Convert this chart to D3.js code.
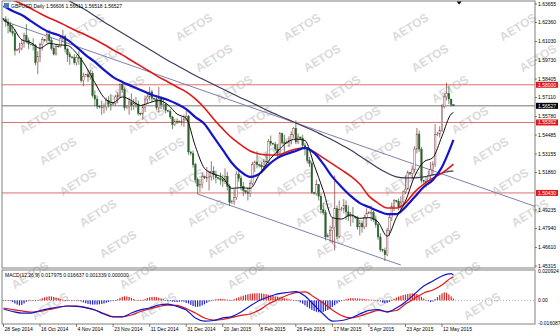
<!DOCTYPE html>
<html>
<head>
<meta charset="utf-8">
<script src="https://cdn.jsdelivr.net/npm/d3@7"></script>
<style>
  body { margin: 0; background: #fff; }
  svg { display: block; }
  text { font-family: "Liberation Sans", Arial, sans-serif; }
</style>
</head>
<body>
<svg id="chart" width="560" height="336"></svg>
<script>
// ---------------- data ----------------
const symbol = "GBPUSD,Daily"
const headerValues = "1.56606 1.56611 1.56518 1.56527"
const macdTitle = "MACD(12,26,9) 0.017975 0.016637 0.001339 0.000000"
const watermark = "AETOS"

// daily bars 28 Sep 2014 .. 18 May 2015 (broker has Sunday bars), open = previous close
const firstOpen = 1.6262
const closes = [
  1.6255,1.6240,1.6215,1.6175,1.6160,1.6040, 1.6045,1.6055,1.6090,1.6145,1.6110,1.6085,
  1.6080,1.6075,1.5955,1.6000,1.6080,1.6115, 1.6110,1.6150,1.6110,1.6055,1.6015,1.6070,
  1.6068,1.6125,1.6140,1.6050,1.6010,1.5995, 1.5990,1.5955,1.5990,1.5985,1.5830,1.5860,
  1.5870,1.5855,1.5880,1.5725,1.5700,1.5650, 1.5645,1.5640,1.5645,1.5690,1.5665,1.5660,
  1.5670,1.5715,1.5725,1.5800,1.5765,1.5640, 1.5645,1.5680,1.5655,1.5670,1.5665,1.5600,
  1.5595,1.5640,1.5700,1.5715,1.5750,1.5705, 1.5700,1.5640,1.5705,1.5660,1.5665,1.5620,
  1.5615,1.5575,1.5520,1.5545,1.5540, 1.5545,1.5545,1.5560,1.5580,1.5330,
  1.5320,1.5240,1.5135,1.5090,1.5100,1.5160, 1.5150,1.5150,1.5155,1.5195,1.5170,1.5150,
  1.5145,1.5135,1.5125,1.5160,1.5090,1.4975, 1.4985,1.5010,1.5175,1.5145,1.5090,1.5060,
  1.5050,1.5040,1.5110,1.5240,1.5260,1.5240, 1.5235,1.5225,1.5265,1.5260,1.5405,1.5390,
  1.5385,1.5350,1.5320,1.5460,1.5395,1.5390, 1.5400,1.5410,1.5450,1.5495,1.5400,1.5435,
  1.5425,1.5375,1.5350,1.5270,1.5250,1.5045, 1.5040,1.5100,1.5020,1.4925,1.4905,1.4735,
  1.4745,1.4780,1.4800,1.4935,1.4740,1.4925, 1.4930,1.4955,1.4910,1.4880,1.4885,1.4880,
  1.4870,1.4805,1.4830,1.4805,1.4870,1.4900, 1.4905,1.4905,1.4855,1.4820,1.4735,1.4645,
  1.4640,1.4610,1.4780,1.4870,1.4950,1.4990, 1.4985,1.4945,1.4980,1.5050,1.5070,1.5185,
  1.5180,1.5210,1.5350,1.5455,1.5350,1.5130, 1.5125,1.5120,1.5165,1.5205,1.5245,1.5450,
  1.5455,1.5480,1.5650,1.5715,1.5740,1.5700, 1.5661,1.56527
]
const highs = [
  1.6268,1.6280,1.6265,1.6240,1.6225,1.6190, 1.6052,1.6095,1.6120,1.6165,1.6225,1.6130,
  1.6088,1.6125,1.6085,1.6035,1.6095,1.6135, 1.6120,1.6175,1.6185,1.6130,1.6075,1.6085,
  1.6078,1.6140,1.6185,1.6150,1.6060,1.6030, 1.6000,1.6015,1.6010,1.6035,1.5995,1.5885,
  1.5878,1.5905,1.5905,1.5895,1.5760,1.5725, 1.5655,1.5690,1.5670,1.5710,1.5720,1.5730,
  1.5678,1.5730,1.5750,1.5810,1.5815,1.5780, 1.5655,1.5710,1.5740,1.5700,1.5715,1.5690,
  1.5605,1.5665,1.5725,1.5740,1.5785,1.5765, 1.5710,1.5725,1.5785,1.5720,1.5705,1.5675,
  1.5625,1.5630,1.5580,1.5560,1.5565, 1.5552,1.5575,1.5590,1.5620,1.5590,
  1.5335,1.5340,1.5255,1.5150,1.5140,1.5185, 1.5165,1.5225,1.5200,1.5265,1.5230,1.5200,
  1.5155,1.5185,1.5170,1.5215,1.5190,1.5105, 1.4995,1.5070,1.5195,1.5200,1.5165,1.5120,
  1.5060,1.5080,1.5130,1.5260,1.5270,1.5335, 1.5245,1.5260,1.5280,1.5325,1.5420,1.5445,
  1.5395,1.5400,1.5385,1.5470,1.5465,1.5450, 1.5410,1.5440,1.5475,1.5505,1.5552,1.5460,
  1.5435,1.5450,1.5395,1.5365,1.5295,1.5265, 1.5050,1.5135,1.5105,1.5035,1.4975,1.4925,
  1.4760,1.4815,1.4875,1.5165,1.4955,1.4990, 1.4945,1.5000,1.4990,1.4955,1.4910,1.4945,
  1.4880,1.4880,1.4855,1.4850,1.4890,1.4935, 1.4915,1.4955,1.4920,1.4885,1.4835,1.4760,
  1.4652,1.4660,1.4800,1.4890,1.4975,1.5000, 1.4995,1.5005,1.5020,1.5060,1.5165,1.5200,
  1.5190,1.5235,1.5370,1.5497,1.5480,1.5365, 1.5135,1.5155,1.5200,1.5260,1.5265,1.5525,
  1.5470,1.5510,1.5665,1.5740,1.5815,1.5790, 1.5702,1.56611
]
const lows = [
  1.6250,1.6205,1.6160,1.6165,1.6140,1.6005, 1.6035,1.6020,1.6040,1.6060,1.6090,1.6050,
  1.6074,1.6040,1.5935,1.5875,1.5960,1.6040, 1.6102,1.6090,1.6090,1.6040,1.6005,1.6005,
  1.6060,1.6060,1.6100,1.6025,1.5960,1.5940, 1.5982,1.5940,1.5935,1.5940,1.5815,1.5790,
  1.5860,1.5820,1.5835,1.5710,1.5650,1.5630, 1.5635,1.5590,1.5600,1.5620,1.5640,1.5620,
  1.5660,1.5655,1.5670,1.5710,1.5745,1.5620, 1.5630,1.5590,1.5620,1.5625,1.5640,1.5585,
  1.5585,1.5555,1.5610,1.5665,1.5690,1.5680, 1.5692,1.5625,1.5605,1.5630,1.5625,1.5600,
  1.5608,1.5560,1.5490,1.5510,1.5525, 1.5535,1.5515,1.5505,1.5545,1.5310,
  1.5305,1.5220,1.5110,1.5035,1.5050,1.5075, 1.5140,1.5120,1.5060,1.5130,1.5135,1.5110,
  1.5135,1.5100,1.5085,1.5105,1.5060,1.4950, 1.4965,1.4960,1.4995,1.5120,1.5060,1.5020,
  1.5035,1.4990,1.5015,1.5095,1.5190,1.5215, 1.5222,1.5190,1.5200,1.5235,1.5250,1.5370,
  1.5375,1.5335,1.5295,1.5305,1.5385,1.5325, 1.5388,1.5365,1.5385,1.5430,1.5385,1.5385,
  1.5412,1.5360,1.5305,1.5250,1.5225,1.5035, 1.5030,1.5025,1.4990,1.4900,1.4890,1.4710,
  1.4730,1.4700,1.4690,1.4640,1.4720,1.4725, 1.4918,1.4900,1.4855,1.4845,1.4810,1.4835,
  1.4860,1.4785,1.4745,1.4765,1.4790,1.4805, 1.4895,1.4845,1.4840,1.4800,1.4715,1.4630,
  1.4628,1.4566,1.4600,1.4740,1.4845,1.4915, 1.4975,1.4920,1.4900,1.4950,1.5035,1.5065,
  1.5170,1.5140,1.5185,1.5320,1.5330,1.5110, 1.5110,1.5080,1.5100,1.5125,1.5165,1.5225,
  1.5440,1.5430,1.5470,1.5635,1.5690,1.5665, 1.5648,1.56518
]

// bar index of each date label and its text
const tickBars = [0, 16, 32, 48, 64, 80, 96, 112, 128, 144, 160, 176, 192]
const tickLabels = ["28 Sep 2014", "16 Oct 2014", "4 Nov 2014", "23 Nov 2014", "11 Dec 2014",
  "31 Dec 2014", "20 Jan 2015", "8 Feb 2015", "26 Feb 2015", "17 Mar 2015", "5 Apr 2015",
  "23 Apr 2015", "12 May 2015"]

// right price scale
const priceTicks = [1.63655, 1.62360, 1.61030, 1.59730, 1.58405, 1.57110, 1.55780, 1.54485,
  1.53155, 1.51860, 1.49235, 1.47940, 1.46610, 1.45315]
const levelLines = [1.58000, 1.55362, 1.50430]
const lastPrice = 1.56527

// moving averages, read every 4th bar (plus the last one)
const maBars = [0,4,8,12,16,20,24,28,32,36,40,44,48,52,56,60,64,68,72,76,80,84,88,92,96,
  100,104,108,112,116,120,124,128,132,136,140,144,148,152,156,160,164,168,172,176,180,184,
  188,192,196,197]
const maFast = [1.6255,1.6205,1.6115,1.6095,1.6055,1.6090,1.6080,1.6075,1.6020,1.5930,1.5815,
  1.5710,1.5675,1.5715,1.5690,1.5655,1.5675,1.5690,1.5660,1.5595,1.5565,1.5370,1.5215,1.5175,
  1.5150,1.5075,1.5080,1.5075,1.5170,1.5265,1.5335,1.5395,1.5420,1.5410,1.5240,1.5060,1.4870,
  1.4860,1.4890,1.4865,1.4870,1.4840,1.4740,1.4870,1.4985,1.5160,1.5260,1.5290,1.5440,1.5595,1.5605]
const maMid = [1.6352,1.6317,1.6288,1.6246,1.6204,1.6169,1.6148,1.6114,1.6064,1.6008,1.5960,
  1.5904,1.5854,1.5820,1.5792,1.5764,1.5736,1.5714,1.5694,1.5666,1.5630,1.5574,1.5526,1.5435,
  1.5344,1.5253,1.5190,1.5155,1.5176,1.5239,1.5288,1.5316,1.5337,1.5358,1.5323,1.5246,1.5155,
  1.5085,1.5022,1.4972,1.4944,1.4916,1.4895,1.4895,1.4944,1.5014,1.5085,1.5134,1.5225,1.5372,1.5414]
const maSlow = [1.6422,1.6394,1.6366,1.6334,1.6299,1.6268,1.6240,1.6208,1.6177,1.6149,1.6117,
  1.6082,1.6044,1.6009,1.5970,1.5932,1.5893,1.5854,1.5820,1.5785,1.5750,1.5701,1.5638,1.5561,
  1.5491,1.5428,1.5379,1.5337,1.5316,1.5309,1.5309,1.5330,1.5351,1.5358,1.5330,1.5288,1.5246,
  1.5204,1.5161,1.5105,1.5021,1.4972,1.4937,1.4937,1.4972,1.5049,1.5105,1.5147,1.5182,1.5231,1.5245]
const maLong = [1.6667,1.6632,1.6590,1.6555,1.6513,1.6471,1.6436,1.6394,1.6359,1.6324,1.6282,
  1.6240,1.6201,1.6163,1.6124,1.6086,1.6047,1.6008,1.5970,1.5935,1.5900,1.5865,1.5834,1.5802,
  1.5771,1.5739,1.5708,1.5680,1.5648,1.5617,1.5589,1.5561,1.5533,1.5505,1.5477,1.5445,1.5414,
  1.5379,1.5344,1.5302,1.5260,1.5218,1.5182,1.5155,1.5148,1.5148,1.5155,1.5169,1.5182,1.5196,1.5196]

// trend channel: [bar, price]
const trendUpper = [[0, 1.6247], [128, 1.5533]]
const trendLower = [[85, 1.5035], [174, 1.4538]]

// MACD lines (x 0.001) at maBars, histogram (x 0.001) per bar
const macdLine = [-6.1,-7.9,-9.0,-9.0,-7.2,-5.8,-4.7,-4.0,-4.3,-5.1,-6.8,-9.7,-11.8,-11.8,-9.0,
  -6.8,-5.4,-3.3,-2.6,-4.3,-6.8,-12.5,-14.7,-14.3,-12.5,-11.5,-8.3,-4.0,-0.1,2.4,4.6,5.6,6.3,
  3.1,-3.3,-9.7,-14.7,-14.3,-12.5,-9.7,-7.2,-6.5,-8.3,-5.4,-1.1,4.6,10.2,13.8,17.4,19.1,17.98]
const signalLine = [-5.4,-6.5,-7.5,-8.3,-7.9,-6.5,-5.1,-4.0,-4.0,-5.1,-6.8,-9.3,-11.5,-11.5,
  -10.4,-7.9,-6.1,-4.3,-3.3,-3.6,-5.8,-9.0,-12.5,-14.0,-13.6,-12.2,-10.7,-9.7,-6.8,-2.6,0.6,
  3.5,5.6,6.0,2.4,-1.9,-6.8,-10.7,-12.5,-11.1,-9.0,-7.2,-7.9,-7.2,-2.6,1.4,5.3,7.4,11.0,15.9,16.64]
const macdHist = [
  0.3,0.2,0.0, -0.5,-1.2,-2.2,-3.0,-3.6,-3.2,-2.2,-1.0, -0.3,0.0,0.2,-0.2,0.1,
  0.8,1.5,2.2,2.6,2.9,2.8,2.5,2.0,1.6,1.1,0.6,0.3, 0.1,0.0,-0.1,0.1,0.0,-0.3,
  -0.8,-1.4,-2.0,-2.5,-2.8,-3.0,-2.9,-3.0,-2.8,-2.5,-2.2,-1.7,-1.2,-0.6, -0.2,0.1,
  0.9,1.8,2.5,2.9,2.8,2.5,1.8,1.0, 0.4,0.1,0.2,0.4,
  1.0,1.8,2.3,2.5,2.5,2.3,1.9,1.4,0.8,0.3, -0.2,-0.5,-0.8,-1.0,-1.2,-1.0,-0.8,-1.0,-1.8,
  -2.2,-3.2,-4.0,-4.5,-4.6,-4.3,-3.6,-2.8,-1.8,-0.9, -0.2,0.4,0.8,1.0,1.1,0.9,0.8,0.6,0.4,0.2,
  0.8,1.5,2.2,2.8,3.4,3.9,4.3,4.7,4.9,5.0,5.1,5.1,5.0,4.7,4.4,4.0,3.6,3.3,2.9,2.6,2.2,1.9,1.5,1.2,0.9,0.6,0.3,0.1,
  -0.6,-1.4,-2.4,-3.5,-4.6,-5.7,-6.7,-7.5,-8.1,-8.5,-8.5,-8.2,-7.6,-6.8,-5.8,-4.6,-3.4,-2.2,-1.1,-0.3,
  0.4,0.9,1.3,1.5,1.6,1.5,1.4,1.3,1.1,0.9,0.7,0.6, 0.5,0.4,0.2,0.0,
  -0.8,-1.6,-2.1,-1.8,-1.0,
  0.4,1.2,2.0,2.7,3.3,3.8,4.2,4.6,4.9,5.0,5.0,4.6,3.8,2.6,1.4,0.4, -0.6,-1.2,-0.8,
  1.0,2.4,3.8,5.0,5.7,5.4,4.2,2.8,1.3
]
const macdTicks = [0.020924, 0, -0.016087]
const macdTickText = ["0.020924", "0.00", "-0.016087"]

// ---------------- layout ----------------
const svg = d3.select("#chart")
const width = 560, height = 336
const left = 2, right = 535
const mainTop = 1, mainBottom = 268
const subTop = 270, subBottom = 324

const x = d3.scaleLinear().domain([0, 192]).range([3.5, 442])
const y = d3.scaleLinear().domain([1.45315, 1.63655]).range([266, 4])
const ym = d3.scaleLinear().domain([-0.016087, 0.020924]).range([323, 271])

svg.append("rect").attr("width", width).attr("height", height).attr("fill", "#fff")

const defs = svg.append("defs")
defs.append("clipPath").attr("id", "clipMain").append("rect")
  .attr("x", left).attr("y", mainTop).attr("width", right - left).attr("height", mainBottom - mainTop)
defs.append("clipPath").attr("id", "clipSub").append("rect")
  .attr("x", left).attr("y", subTop).attr("width", right - left).attr("height", subBottom - subTop)

// watermark tiled diagonally over the whole picture (only whole copies)
const wm = svg.append("g")
for (let j = -6; j < 8; j++) {
  for (let i = -10; i < 14; i++) {
    const px = 410 + j * 108 + i * 20
    const py = 27 + i * 31
    if (px < 21 || px > width - 21 || py < 16 || py > height - 16) continue
    wm.append("text").attr("transform", `translate(${px},${py}) rotate(-32)`)
      .attr("text-anchor", "middle").attr("dy", "0.35em")
      .attr("font-size", 12).attr("font-weight", "bold")
      .attr("fill", "#dadada").text(watermark)
  }
}

// ---------------- main panel ----------------
const main = svg.append("g").attr("clip-path", "url(#clipMain)")

// horizontal levels
main.selectAll(".level").data(levelLines).join("line")
  .attr("x1", left).attr("x2", right).attr("y1", d => y(d)).attr("y2", d => y(d))
  .attr("stroke", "#e07070").attr("stroke-width", 1)
main.append("line").attr("x1", left).attr("x2", right)
  .attr("y1", y(lastPrice)).attr("y2", y(lastPrice)).attr("stroke", "#505050").attr("stroke-width", 0.8)

// trend channel
const upSlope = (trendUpper[1][1] - trendUpper[0][1]) / (trendUpper[1][0] - trendUpper[0][0])
const endBar = x.invert(right)
main.append("line")
  .attr("x1", x(trendUpper[0][0])).attr("y1", y(trendUpper[0][1]))
  .attr("x2", x(endBar)).attr("y2", y(trendUpper[0][1] + upSlope * (endBar - trendUpper[0][0])))
  .attr("stroke", "#8080b0").attr("stroke-width", 1)
main.append("line")
  .attr("x1", x(trendLower[0][0])).attr("y1", y(trendLower[0][1]))
  .attr("x2", x(trendLower[1][0])).attr("y2", y(trendLower[1][1]))
  .attr("stroke", "#8080b0").attr("stroke-width", 1)

// candles
const bars = closes.map((c, i) => ({
  i, o: i === 0 ? firstOpen : closes[i - 1], h: highs[i], l: lows[i], c
}))
const candle = main.append("g").selectAll("g").data(bars).join("g")
candle.append("line")
  .attr("x1", d => x(d.i)).attr("x2", d => x(d.i))
  .attr("y1", d => y(d.h)).attr("y2", d => y(d.l))
  .attr("stroke", d => d.c >= d.o ? "#7a3b3b" : "#2f5f2f").attr("stroke-width", 0.7)
candle.append("rect")
  .attr("x", d => x(d.i) - 0.8).attr("width", 1.6)
  .attr("y", d => y(Math.max(d.o, d.c)))
  .attr("height", d => Math.max(0.6, Math.abs(y(d.o) - y(d.c))))
  .attr("fill", d => d.c >= d.o ? "#f4eeee" : "#2f5f2f")
  .attr("stroke", d => d.c >= d.o ? "#7a3b3b" : "#2f5f2f").attr("stroke-width", 0.4)

// moving averages
const maLine = d3.line().x((d, k) => x(maBars[k])).y(d => y(d)).curve(d3.curveMonotoneX)
main.append("path").attr("d", maLine(maLong)).attr("fill", "none").attr("stroke", "#3c3c5a").attr("stroke-width", 1.2)
main.append("path").attr("d", maLine(maSlow)).attr("fill", "none").attr("stroke", "#e01818").attr("stroke-width", 1.6)
main.append("path").attr("d", maLine(maMid)).attr("fill", "none").attr("stroke", "#1414c8").attr("stroke-width", 2.2)
main.append("path").attr("d", maLine(maFast)).attr("fill", "none").attr("stroke", "#101010").attr("stroke-width", 1)

// ---------------- MACD panel ----------------
const sub = svg.append("g").attr("clip-path", "url(#clipSub)")
sub.append("line").attr("x1", left).attr("x2", right).attr("y1", ym(0)).attr("y2", ym(0))
  .attr("stroke", "#909090").attr("stroke-width", 0.7).attr("stroke-dasharray", "1,2")
sub.selectAll(".hist").data(macdHist).join("rect")
  .attr("x", (d, i) => x(i) - 0.6).attr("width", 1.2)
  .attr("y", d => ym(Math.max(0, d / 1000)))
  .attr("height", d => Math.max(0.7, Math.abs(ym(d / 1000) - ym(0))))
  .attr("fill", d => d >= 0 ? "#e02020" : "#2020d0")
const macdPath = d3.line().x((d, k) => x(maBars[k])).y(d => ym(d / 1000)).curve(d3.curveMonotoneX)
sub.append("path").attr("d", macdPath(signalLine)).attr("fill", "none").attr("stroke", "#e01818").attr("stroke-width", 1.2)
sub.append("path").attr("d", macdPath(macdLine)).attr("fill", "none").attr("stroke", "#1414c8").attr("stroke-width", 1.2)

// ---------------- frames ----------------
svg.append("rect").attr("x", left).attr("y", mainTop).attr("width", right - left).attr("height", mainBottom - mainTop)
  .attr("fill", "none").attr("stroke", "#808080").attr("stroke-width", 1)
svg.append("rect").attr("x", left).attr("y", subTop).attr("width", right - left).attr("height", subBottom - subTop)
  .attr("fill", "none").attr("stroke", "#808080").attr("stroke-width", 1)

// chart shift marker
const sx = x(199.5)
svg.append("path").attr("d", `M${sx - 2.5},1.5 L${sx + 2.5},1.5 L${sx},4.5 Z`).attr("fill", "#000")

// header texts
svg.append("rect").attr("x", 4).attr("y", 3).attr("width", 5).attr("height", 5).attr("fill", "#4a7fbf")
svg.append("text").attr("x", 11).attr("y", 8).attr("font-size", 5).attr("fill", "#000")
  .text(symbol + "  " + headerValues)
svg.append("text").attr("x", 5).attr("y", 277).attr("font-size", 5).attr("fill", "#000").text(macdTitle)

// right price axis
const axisG = svg.append("g")
axisG.selectAll(".pt").data(priceTicks).join("text")
  .attr("x", 538).attr("y", d => y(d) + 1.8).attr("font-size", 5).attr("fill", "#000")
  .text(d => d.toFixed(5))
axisG.selectAll(".ptk").data(priceTicks).join("line")
  .attr("x1", right).attr("x2", right + 2).attr("y1", d => y(d)).attr("y2", d => y(d)).attr("stroke", "#000").attr("stroke-width", 0.5)

const tags = levelLines.map(v => ({ v, bg: "#e01818" })).concat([{ v: lastPrice, bg: "#000" }])
const tag = axisG.selectAll(".tag").data(tags).join("g")
tag.append("rect").attr("x", right + 1).attr("y", d => y(d.v) - 3).attr("width", 22).attr("height", 6).attr("fill", d => d.bg)
tag.append("text").attr("x", 538).attr("y", d => y(d.v) + 1.8).attr("font-size", 5).attr("fill", "#fff")
  .text(d => d.v.toFixed(5))

// MACD axis
axisG.selectAll(".mt").data(macdTicks).join("text")
  .attr("x", 538).attr("y", d => ym(d) + 1.8).attr("font-size", 5).attr("fill", "#000")
  .text((d, i) => macdTickText[i])

// date axis
const dateG = svg.append("g")
dateG.selectAll("line").data(tickBars).join("line")
  .attr("x1", d => x(d)).attr("x2", d => x(d)).attr("y1", subBottom).attr("y2", subBottom + 3)
  .attr("stroke", "#000").attr("stroke-width", 0.5)
dateG.selectAll("text").data(tickBars).join("text")
  .attr("x", d => x(d) + 1).attr("y", 331).attr("font-size", 5).attr("fill", "#000")
  .text((d, i) => tickLabels[i])
</script>
</body>
</html>
